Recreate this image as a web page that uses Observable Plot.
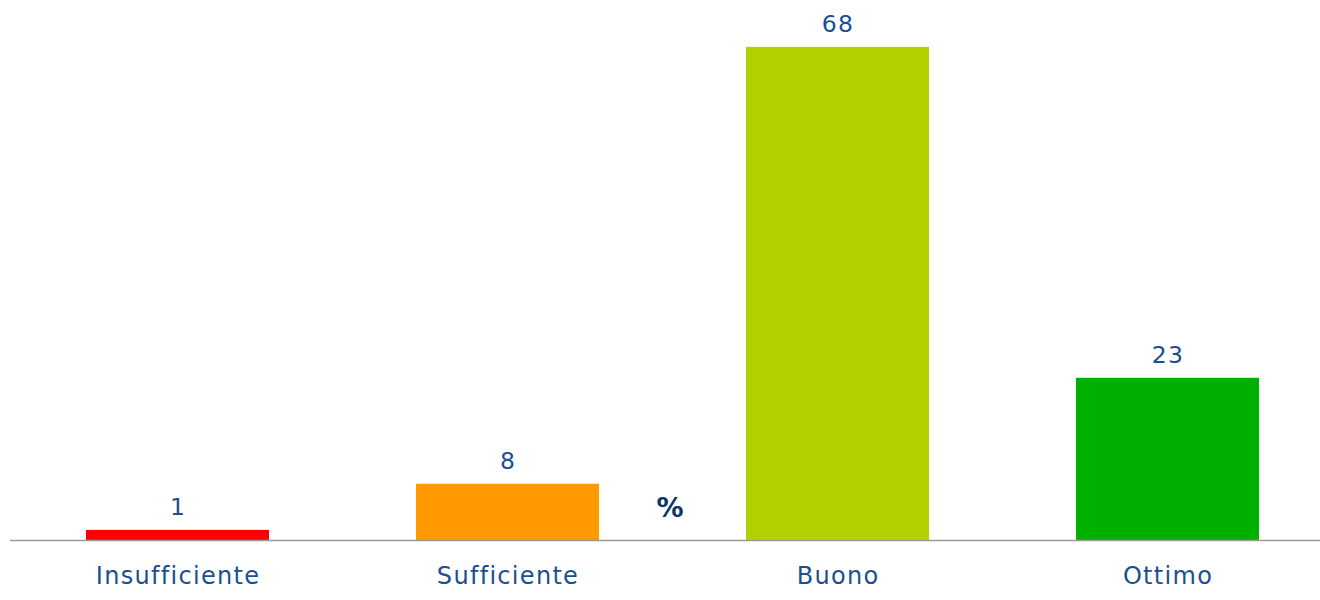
<!DOCTYPE html>
<html>
<head>
<meta charset="utf-8">
<script src="https://cdn.jsdelivr.net/npm/d3@7"></script>
<script src="https://cdn.jsdelivr.net/npm/@observablehq/plot@0.6"></script>
<style>
  html, body { margin: 0; padding: 0; background: #fff; }
  #chart svg { display: block; }
  #chart svg g[aria-label="text"] text, #chart svg g[aria-label="x-axis tick label"] text { letter-spacing: 1.3px; }
  #chart svg g.unit text { letter-spacing: 0; }
</style>
</head>
<body>
<div id="chart"></div>
<script>
const categories = ["Insufficiente", "Sufficiente", "Buono", "Ottimo"];
const values = [1.4, 7.8, 68.4, 22.5];
const labels = ["1", "8", "68", "23"];
const colors = ["#FF0000", "#FF9900", "#B3D100", "#00B000"];
const unitLabel = "%";

const data = categories.map((c, i) => ({category: c, value: values[i], label: labels[i], color: colors[i]}));

const textColor = "#1B4F91";
const font = "DejaVu Sans, Verdana, sans-serif";

const chart = Plot.plot({
  width: 1320,
  height: 600,
  marginLeft: 10,
  marginRight: 0,
  marginTop: 0,
  marginBottom: 60,
  style: {fontFamily: font, background: "#fff"},
  x: {domain: categories, range: [10, 1335], paddingInner: 0.444, paddingOuter: 0.2236, label: null},
  y: {domain: [0, 74.9], axis: null},
  marks: [
    Plot.barY(data, {x: "category", y: "value", fill: "color"}),
    Plot.ruleY([0], {stroke: "#9a9a9a", strokeWidth: 1.5}),
    Plot.text(data, {x: "category", y: "value", text: "label", lineAnchor: "bottom", dy: -15, fontSize: 23.5, fill: textColor}),
    Plot.axisX({tickSize: 0, tickPadding: 26, fontSize: 24, color: textColor, label: null}),
    Plot.text([unitLabel], {x: () => "Sufficiente", frameAnchor: "bottom", dx: 162, dy: -32, lineAnchor: "middle", fontSize: 27, fontWeight: "bold", fill: "#0D3566", className: "unit"})
  ]
});
document.getElementById("chart").appendChild(chart);
</script>
</body>
</html>
